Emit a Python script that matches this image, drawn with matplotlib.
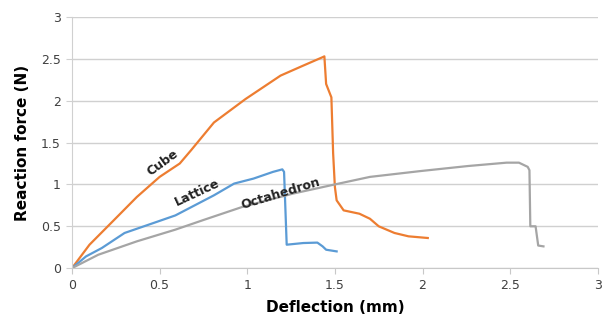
import numpy as np
import matplotlib.pyplot as plt

cube_x = [0, 0.10, 0.24, 0.37, 0.50, 0.615, 0.68, 0.81, 0.99, 1.19, 1.32, 1.43, 1.44,
          1.45, 1.48, 1.49, 1.50, 1.51, 1.55, 1.64, 1.70, 1.75, 1.84, 1.92, 2.03]
cube_y = [0, 0.28, 0.575, 0.85, 1.09, 1.25, 1.41, 1.74, 2.02, 2.30, 2.42, 2.52, 2.53,
          2.20, 2.04, 1.37, 0.97, 0.81, 0.69, 0.65, 0.59, 0.50, 0.42, 0.38, 0.36]

lattice_x = [0, 0.08, 0.17, 0.30, 0.48, 0.59, 0.70, 0.81, 0.925, 1.036, 1.147, 1.20,
             1.21, 1.225, 1.32, 1.40, 1.43, 1.45, 1.51]
lattice_y = [0, 0.14, 0.24, 0.42, 0.55, 0.63, 0.75, 0.87, 1.01, 1.07, 1.15, 1.18,
             1.15, 0.28, 0.30, 0.305, 0.26, 0.22, 0.20]

octa_x = [0, 0.15, 0.37, 0.59, 0.75, 0.97, 1.26, 1.50, 1.70, 1.99, 2.26, 2.48, 2.55,
          2.60, 2.61, 2.615, 2.645, 2.66, 2.69]
octa_y = [0, 0.16, 0.32, 0.46, 0.575, 0.73, 0.89, 1.00, 1.09, 1.16, 1.22, 1.26, 1.26,
          1.21, 1.17, 0.50, 0.50, 0.27, 0.26]

ticks = [0, 0.5, 1, 1.5, 2, 2.5, 3]
tick_labels = ['0', '0.5', '1', '1.5', '2', '2.5', '3']

fig = plt.figure(figsize=(6.1, 3.27), dpi=100)
ax = fig.add_axes([0.118, 0.180, 0.862, 0.768])

ax.plot(cube_x, cube_y, color='#ED7D31', lw=1.6)
ax.plot(lattice_x, lattice_y, color='#5B9BD5', lw=1.6)
ax.plot(octa_x, octa_y, color='#A5A5A5', lw=1.6)

# curve labels
ax.text(0.52, 1.26, 'Cube', rotation=36, fontsize=9, fontweight='bold',
        ha='center', va='center', color='#222222')
ax.text(0.715, 0.90, 'Lattice', rotation=25, fontsize=9, fontweight='bold',
        ha='center', va='center', color='#222222')
ax.text(1.19, 0.89, 'Octahedron', rotation=17, fontsize=9, fontweight='bold',
        ha='center', va='center', color='#222222')

ax.set_xlim(0, 3)
ax.set_ylim(0, 3)
ax.set_xticks(ticks)
ax.set_yticks(ticks)
ax.set_xticklabels(tick_labels)
ax.set_yticklabels(tick_labels)
ax.grid(axis='y', color='#D0D0D0', lw=1.0)
ax.set_axisbelow(True)

for s in ['top', 'right']:
    ax.spines[s].set_visible(False)
ax.spines['left'].set_color('#D0D0D0')
ax.spines['bottom'].set_color('#C8C8C8')
ax.tick_params(axis='y', length=4, color='#D0D0D0', labelsize=9, labelcolor='#404040', pad=4)
ax.tick_params(axis='x', length=4, color='#C8C8C8', labelsize=9, labelcolor='#404040')

ax.set_xlabel('Deflection (mm)', fontsize=11, fontweight='bold', labelpad=6)
ax.set_ylabel('Reaction force (N)', fontsize=11, fontweight='bold', labelpad=8)

fig.savefig('out.png', dpi=100)
